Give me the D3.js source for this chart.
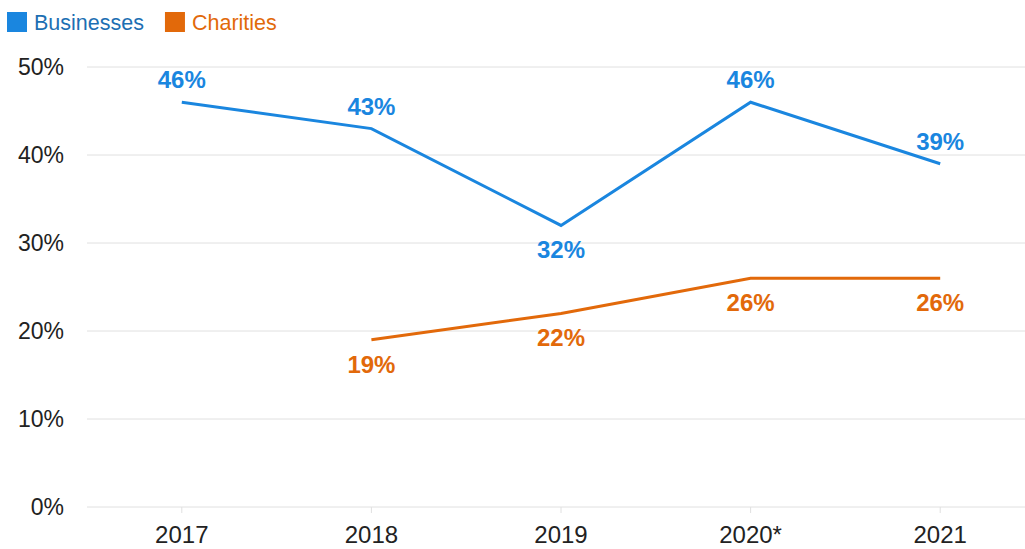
<!DOCTYPE html>
<html>
<head>
<meta charset="utf-8">
<script src="https://cdn.jsdelivr.net/npm/d3@7"></script>
<style>
  body { margin: 0; background: #fff; }
  svg { display: block; font-family: "Liberation Sans", Arial, sans-serif; }
</style>
</head>
<body>
<svg width="1025" height="549"></svg>
<script>
const years = ['2017', '2018', '2019', '2020*', '2021'];
const businesses = [46, 43, 32, 46, 39];
const charities = [null, 19, 22, 26, 26];
const yTicks = [0, 10, 20, 30, 40, 50];

// label placement: 1 = above point, -1 = below
const bizPos = [1, 1, -1, 1, 1];
const charPos = [-1, -1, -1, -1, -1];

const series = [
  { name: 'Businesses', values: businesses, pos: bizPos, color: '#1a86df', legendText: '#1d6fb3' },
  { name: 'Charities', values: charities, pos: charPos, color: '#e2690a', legendText: '#e2690a' },
];

const svg = d3.select('svg');
const margin = { left: 87, top: 67, bottom: 42 };
const height = +svg.attr('height');

const x = d3.scalePoint()
  .domain(years)
  .range([margin.left, 1035])
  .padding(0.5);

const y = d3.scaleLinear()
  .domain([0, 50])
  .range([height - margin.bottom, margin.top]);

// grid
svg.append('g')
  .selectAll('line')
  .data(yTicks)
  .enter().append('line')
  .attr('x1', margin.left)
  .attr('x2', 1025)
  .attr('y1', d => y(d))
  .attr('y2', d => y(d))
  .attr('stroke', '#e0e0e0')
  .attr('stroke-width', 1);

// y labels
svg.append('g')
  .selectAll('text')
  .data(yTicks)
  .enter().append('text')
  .attr('x', 64)
  .attr('y', d => y(d))
  .attr('dy', '0.35em')
  .attr('text-anchor', 'end')
  .attr('font-size', 23)
  .attr('fill', '#222')
  .text(d => d + '%');

// x axis ticks + labels
const xAxis = svg.append('g');
xAxis.selectAll('line')
  .data(years)
  .enter().append('line')
  .attr('x1', d => x(d))
  .attr('x2', d => x(d))
  .attr('y1', y(0))
  .attr('y2', y(0) + 6)
  .attr('stroke', '#e0e0e0');
xAxis.selectAll('text')
  .data(years)
  .enter().append('text')
  .attr('x', d => x(d))
  .attr('y', y(0) + 36)
  .attr('text-anchor', 'middle')
  .attr('font-size', 24)
  .attr('fill', '#222')
  .text(d => d);

const line = d3.line()
  .defined(d => d.v !== null)
  .x(d => x(d.year))
  .y(d => y(d.v));

series.forEach((s) => {
  const pts = years.map((year, i) => ({ year, v: s.values[i], pos: s.pos[i] }));
  svg.append('path')
    .datum(pts)
    .attr('fill', 'none')
    .attr('stroke', s.color)
    .attr('stroke-width', 3)
    .attr('d', line);

  svg.append('g')
    .selectAll('text')
    .data(pts.filter(d => d.v !== null))
    .enter().append('text')
    .attr('x', d => x(d.year))
    .attr('y', d => (d.pos > 0 ? y(d.v) - 14 : y(d.v) + 33))
    .attr('text-anchor', 'middle')
    .attr('font-size', 24)
    .attr('font-weight', 'bold')
    .attr('fill', s.color)
    .text(d => d.v + '%');
});

// legend
const legend = svg.append('g');
let lx = 7;
series.forEach((s) => {
  legend.append('rect')
    .attr('x', lx)
    .attr('y', 12)
    .attr('width', 20)
    .attr('height', 20)
    .attr('fill', s.color);
  const t = legend.append('text')
    .attr('x', lx + 27)
    .attr('y', 30)
    .attr('font-size', 21.5)
    .attr('fill', s.legendText)
    .text(s.name);
  lx += 27 + t.node().getComputedTextLength() + 21;
});
</script>
</body>
</html>
